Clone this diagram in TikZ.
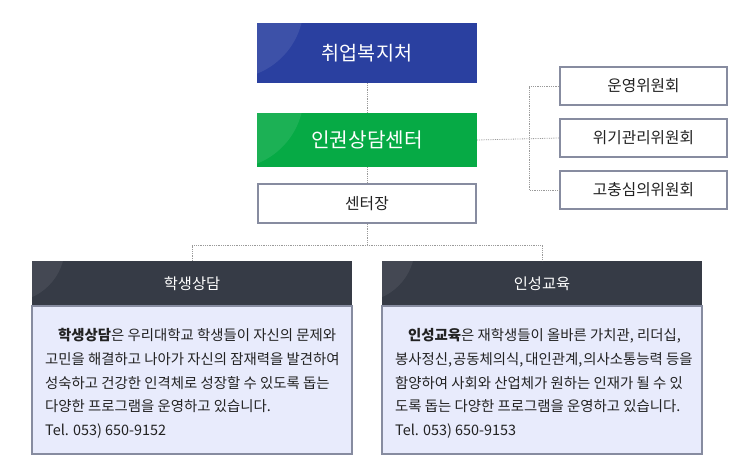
\documentclass[tikz,border=0pt]{standalone}
\usepackage{fontspec}
\setmainfont{Noto Sans CJK KR}
\usetikzlibrary{positioning}
\definecolor{welfareblue}{HTML}{2A40A0}
\definecolor{centergreen}{HTML}{06AA45}
\definecolor{framegray}{HTML}{878CA0}
\definecolor{headdark}{HTML}{363B46}
\definecolor{bodylilac}{HTML}{E8EBFC}
\definecolor{dotgray}{HTML}{9A9A9A}
\definecolor{textdark}{HTML}{222222}
\begin{document}
\begin{tikzpicture}[x = 1pt, y = -1pt,
                    color = {textdark}]
% styles of boxes and lines
\tikzset{topbox/.style={minimum width=220pt,inner sep=0pt,text=white},
         linebox/.style={draw=framegray,line width=2pt,fill=white,inner sep=0pt},
         headbox/.style={fill=headdark,minimum width=320pt,minimum height=45pt,inner sep=0pt,
                         text=white,font=\fontsize{15.3}{17}\selectfont},
         bodytext/.style={align=left,inner sep=0pt,anchor=north west,
                          font=\fontsize{14.4}{23.6}\selectfont},
         dotline/.style={draw=dotgray,densely dotted,line width=0.8pt},
         gloss/.style={fill=white,opacity=0.09}}
\useasboundingbox (0,0) rectangle (735,470);

%top boxes
\node[topbox,fill=welfareblue,minimum height=60pt,font=\fontsize{19.6}{21}\selectfont]
  (welfare) at (367,53) {취업복지처};
\node[topbox,fill=centergreen,minimum height=54pt,font=\fontsize{20.2}{22}\selectfont]
  (center) at (367,140) {인권상담센터};
\node[linebox,minimum width=218pt,minimum height=39pt,font=\fontsize{15.8}{17}\selectfont]
  (chief) at (367,203.5) {센터장};
%gloss
\begin{scope}
\clip (welfare.south west) rectangle (welfare.north east);
\fill[gloss] ([shift={(-27,-18)}]welfare.north west) circle (74pt);
\end{scope}
\begin{scope}
\clip (center.south west) rectangle (center.north east);
\fill[gloss] ([shift={(-27,-18)}]center.north west) circle (74pt);
\end{scope}

%committees
\node[linebox,minimum width=167pt,minimum height=38pt,font=\fontsize{15.7}{17}\selectfont]
  (steering) at (643.5,86) {운영위원회};
\node[linebox,minimum width=167pt,minimum height=38pt,font=\fontsize{15.7}{17}\selectfont]
  (crisis) at (643.5,138) {위기관리위원회};
\node[linebox,minimum width=167pt,minimum height=38pt,font=\fontsize{15.7}{17}\selectfont]
  (grievance) at (643.5,190) {고충심의위원회};

%panels
\node[headbox] (studentHead) at (192,283.5) {학생상담};
\node[headbox] (characterHead) at (542,283.5) {인성교육};
\draw[draw=framegray,fill=bodylilac,line width=1.5pt]
  (studentHead.south west) rectangle ++(320,148);
\draw[draw=framegray,fill=bodylilac,line width=1.5pt]
  (characterHead.south west) rectangle ++(320,148);
\begin{scope}
\clip (studentHead.south west) rectangle (studentHead.north east);
\fill[white,opacity=0.07] ([shift={(-22,-14)}]studentHead.north west) circle (55pt);
\end{scope}
\begin{scope}
\clip (characterHead.south west) rectangle (characterHead.north east);
\fill[white,opacity=0.07] ([shift={(-22,-14)}]characterHead.north west) circle (55pt);
\end{scope}

%panel texts
\node[bodytext] (studentText) at (45,328.5)
  {\hspace*{13pt}\textbf{학생상담}은 우리대학교 학생들이 자신의 문제와\\
   고민을 해결하고 나아가 자신의 잠재력을 발견하여\\
   성숙하고 건강한 인격체로 성장할 수 있도록 돕는\\
   다양한 프로그램을 운영하고 있습니다.\\[0.5pt]
   Tel. 053) 650-9152};
\node[bodytext] (characterText) at (395,328.5)
  {\hspace*{13pt}\textbf{인성교육}은 재학생들이 올바른 가치관, 리더십,\\
   봉사정신,\hspace{1pt}공동체의식,\hspace{2pt}대인관계,\hspace{1pt}의사소통능력 등을\\
   함양하여 사회와 산업체가 원하는 인재가 될 수 있\\
   도록 돕는 다양한 프로그램을 운영하고 있습니다.\\[0.5pt]
   Tel. 053) 650-9153};

%connectors
\coordinate (fork) at (529,139);
\coordinate (bus) at (367,245);
\draw[dotline] (welfare.south) -- (center.north);
\draw[dotline] (center.south) -- (chief.north);
\draw[dotline] (chief.south) -- (bus);
\draw[dotline] (studentHead.north) |- (bus) -| (characterHead.north);
\draw[dotline] (center.east) -- (crisis.west);
\draw[dotline] (steering.west) -| (fork) |- (grievance.west);
\end{tikzpicture}
\end{document}
